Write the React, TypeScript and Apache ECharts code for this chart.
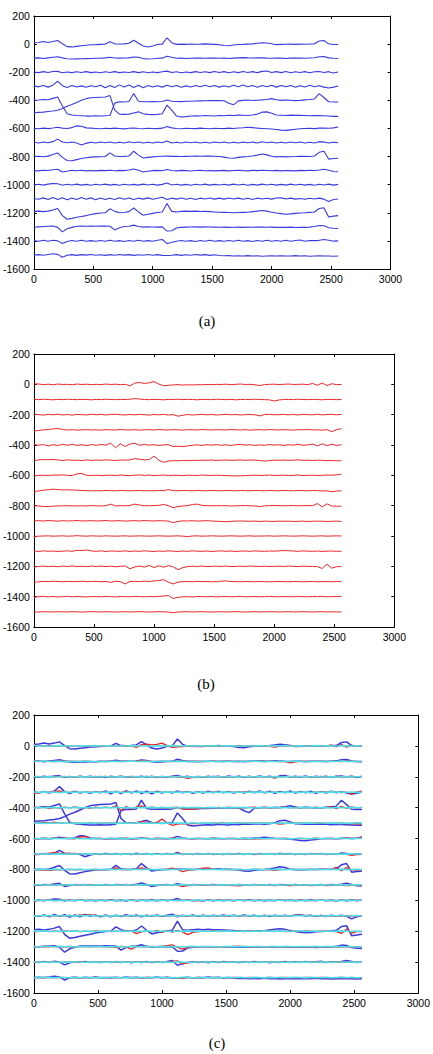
import React, { useEffect, useRef } from "react";
import * as echarts from "echarts";

// Samples between stored points (2560 samples per channel).
const SAMPLE_STEP = 40;

// Baseline of each stacked channel.
const channelOffsets = [0, -100, -200, -300, -400, -500, -600, -700, -800, -900, -1000, -1100, -1200, -1300, -1400, -1500];

const xMin = 0;
const xMax = 3000;
const xInterval = 500;
const yMin = -1600;
const yMax = 200;
const yInterval = 200;

const panelCaptions = ["(a)", "(b)", "(c)"];

// Original recordings (blue), deviation from the channel baseline.
const blueTraces: number[][] = [
  [10, 12, 18, 12, 18, 26, 2, -18, -20, -16, -12, -8, -5,
   -4, -2, 0, 16, 2, 1, 2, 6, 28, 6, -14, -20, -14,
   -3, 0, 45, 10, -2, 0, -2, 1, -1, 0, 2, 0, -2,
   -4, -10, -12, -6, -3, -2, 0, 2, 6, 10, 8, 2, -4,
   -2, -1, 0, -2, 0, -1, 1, 2, 22, 26, 2, -3, -3],
  [0, 2, -2, 2, 6, 10, 2, -4, -6, -5, -4, -3, -2,
   -1, 0, 2, 7, 1, 0, 1, 2, 8, 6, -3, -6, -4,
   -1, 0, 14, 6, -1, 0, -2, -1, 0, 1, -1, 0, 1,
   -1, 0, -2, 0, 2, 4, 2, 1, 3, 2, 0, -1, 1,
   0, -2, 0, 1, 0, -1, 1, 3, 10, 12, 2, -1, -2],
  [2, -3, 4, -2, 5, 6, -4, 2, -3, 3, -2, 4, -3,
   2, -4, 3, -2, 4, -3, 2, -2, 4, -3, 3, -4, 2,
   -3, 3, 8, -2, 3, -4, 2, -3, 4, -2, 3, -3, 5,
   -2, 4, -4, 3, -3, 5, -2, 4, -3, 6, 9, -2, 4,
   -3, 5, -4, 3, -2, 4, -4, 3, 5, -2, 4, -5, 2],
  [3, -4, 5, -6, 8, 36, 4, -8, 6, -5, 3, -7, 4,
   -3, 8, -10, 6, -9, 10, -6, 9, -8, 7, -10, 6, -5,
   4, -6, 8, -4, 5, -7, 3, -5, 6, -4, 7, -3, 5,
   -6, 4, -5, 7, -3, 9, -4, 6, -7, 5, -4, 8, -6,
   5, -4, 6, -7, 4, -5, 7, -3, 4, -6, -12, -6, 2],
  [0, 2, 6, 4, 14, 24, -40, -95, -104, -108, -110, -112, -112,
   -110, -112, -110, -108, -20, -10, -12, -8, 48, -6, -10, -10, -8,
   -10, -8, 2, -6, -8, -9, -7, -6, -5, -4, -3, -2, -1,
   -2, -3, -20, -32, -4, 0, 2, -1, 1, 3, 6, 12, 4,
   0, 2, 1, -2, 0, 3, 6, 10, 48, 20, -10, -12, -12],
  [12, 14, 16, 20, 24, 30, 42, 58, 70, 85, 100, 112, 118,
   120, 122, 124, 134, 30, 2, 0, 2, 10, 18, 4, 0, -2,
   0, 4, 66, 30, -12, -18, -16, -12, -10, -12, -8, -10, -12,
   -8, -10, -6, -8, -5, -6, -8, -4, 2, 16, 18, 8, -4,
   -6, -8, -5, -7, -6, -8, -10, -8, -9, -10, -12, -14, -14],
  [0, -2, 2, -1, 3, 8, 2, 0, 6, 18, 16, 4, 2,
   0, -2, 1, -1, 2, 0, -3, 1, 3, 0, -2, 1, 0,
   -1, 2, 14, 4, 0, -2, 1, 0, -1, 2, 0, -2, 1,
   0, -1, 2, 0, 3, 5, 8, 6, 2, 0, -2, -4, -8,
   -12, -14, -10, -6, -2, 0, 1, -1, 2, 3, 1, 4, 10],
  [2, -3, 3, -2, 6, 24, 4, -2, 3, -4, -18, -6, 2,
   -3, 4, -2, 3, -4, 2, -3, 5, -2, 3, -3, 2, -4,
   3, -2, 10, -3, 2, -4, 3, -2, 4, -3, 2, -4, 3,
   -2, 3, -3, 2, -4, 4, -2, 3, -3, 5, -2, 3, -3,
   2, -4, 3, -2, 4, -3, 2, -3, 6, 3, -4, 2, -2],
  [0, 2, -1, 3, 14, 26, -6, -28, -30, -22, -14, -8, -4,
   -2, -1, 0, 26, 4, 0, 1, 4, 38, 10, -10, -6, -2,
   0, 2, 3, 1, 2, 0, 1, 2, 3, 2, 4, 3, 2,
   0, -4, -10, -12, -6, -2, 0, 4, 10, 18, 12, 2, -2,
   0, -2, -1, 0, 2, 1, 0, 4, 30, 38, -18, -14, -12],
  [0, -2, 3, 1, 6, 10, -10, -4, 2, -1, 3, -2, 1,
   -2, 2, 0, 3, -1, 2, 0, 4, 12, 2, -10, -4, 0,
   2, -1, 8, 1, -2, 2, 0, -3, 1, 2, -1, 1, -2,
   0, 2, -2, 1, 3, 0, -2, 2, 0, 3, 1, -1, 2,
   -2, 1, 0, -2, 2, 0, 3, 1, 4, 10, 2, -6, -8],
  [-2, 3, -3, 4, 8, 7, -4, 3, -2, 4, -3, 2, -4,
   3, -2, 4, -3, 2, -4, 3, -2, 2, -3, 4, -2, 3,
   -3, 2, 12, -2, 3, -3, 2, -4, 3, -2, 4, -3, 2,
   -2, 3, -3, 4, -2, 3, -4, 2, -3, 4, -2, 3, -3,
   2, -3, 4, -2, 3, -3, 2, -4, 3, -2, 4, -3, 2],
  [2, -4, 6, -6, 8, -5, 7, -8, 5, -6, 8, -4, 6,
   -7, 5, -6, 4, -5, 7, -4, 5, -6, 4, -3, 6, -4,
   3, 10, -6, 4, -3, 5, -4, 3, -5, 4, -2, 5, -3,
   4, -3, 5, -2, 4, -4, 3, -5, 4, -2, 3, -3, 5,
   6, -2, 4, -3, 2, -4, 3, -2, 4, -3, -20, -6, -2],
  [10, 12, 8, 12, 20, 30, -20, -46, -40, -32, -26, -20, -12,
   -6, -2, 0, 28, 10, 0, 2, 8, 34, 6, -18, -10, -4,
   2, 6, 66, 10, 6, 10, 12, 10, 12, 9, 10, 8, 6,
   4, 3, 2, 0, 2, 3, 4, 8, 12, 16, 12, 4, -2,
   -6, -10, -8, -4, -2, 0, 3, 6, 30, 36, -30, -24, -20],
  [-3, 0, 2, 4, 6, -4, -36, -14, -4, 4, 5, 4, 5,
   4, 6, 5, 4, -22, -6, 2, 4, 12, 2, -2, 0, -1,
   -2, 0, -30, -28, -8, -4, -2, -1, 0, -2, 0, -1, -2,
   -3, -2, -4, -3, -2, -4, -1, -3, -2, -1, -3, -2, -4,
   -3, -4, -2, -5, -3, -4, -2, 2, 10, 8, -6, -10, -12],
  [2, -3, 4, -2, 5, 0, -18, -4, 3, -2, 4, -3, 2,
   -3, 3, -2, 4, -3, 2, -4, 3, -2, 4, -3, 2, -3,
   4, 10, -20, -10, -2, 3, -3, 2, -4, 3, -2, 4, -3,
   2, -3, 3, -2, 4, -3, 2, -4, 3, -2, 4, -2, 3,
   -3, 4, -2, 3, 6, -2, 3, 2, 4, 10, 4, -2, 0],
  [0, 2, -2, 3, 8, 4, -16, -2, 2, -3, 2, -1, 3,
   -2, 1, -3, 2, -2, 3, -1, 2, -3, 1, -2, 3, -2,
   2, -3, -4, -2, 2, -3, 1, -2, 3, -1, 2, -3, 1,
   -4, -6, -5, -8, -6, -7, -5, -8, -6, -9, -7, -6, -8,
   -6, -8, -7, -5, -8, -6, -9, -7, -6, -8, -7, -9, -8],
];

// Reconstructed recordings (red), deviation from the channel baseline.
const redTraces: number[][] = [
  [4, 2, -2, 1, -3, 2, -1, 0, -3, 2, -1, 1, -2,
   0, -2, 2, -1, 1, -2, 0, -10, 8, 12, 6, 10, 18,
   2, -10, -6, -4, -2, -5, -3, -4, -2, -3, -1, -2, 0,
   -1, 1, -2, 0, 2, -1, 0, -3, -8, -2, 0, 1, -1,
   0, 2, -1, 0, 1, -2, 6, -6, 8, -8, 4, -2, -1],
  [1, -1, 2, 0, -2, 1, -1, 2, 0, -1, 1, 0, -2,
   1, -1, 2, 0, -1, 1, 0, 2, 6, 3, 0, -1, 1,
   0, -2, 1, 0, 2, -1, 1, 0, -2, 1, 0, -1, 2,
   0, -1, 1, -2, 0, 1, -1, 2, 0, -1, -2, -10, -3,
   0, 1, -1, 2, 0, -1, 1, 0, -2, 1, 0, -1, 0],
  [4, 0, -3, 2, -1, 3, -2, 1, -3, 2, 0, -2, 3,
   -1, 2, -2, 1, 3, 0, -2, 1, -1, 2, 0, -3, 1,
   -1, 2, -2, 0, -10, -4, 1, -2, 0, 2, -1, 1, -2,
   0, 2, -1, 1, -2, 0, 1, -1, -8, 1, 2, -1, 0,
   2, -1, 1, -2, 2, 0, -1, 3, -2, 1, 2, -1, 2],
  [-8, -4, 0, 2, 6, 9, 2, -1, 1, -2, 0, 1, -1,
   0, -2, 1, 0, -1, 2, 0, -1, 1, -2, 0, 1, -1,
   2, 0, -1, 1, 0, -2, 1, 0, -1, 2, 0, -1, 1,
   0, -1, 2, 0, -1, 1, -2, 0, 1, -1, 2, 0, -1,
   1, 0, -2, 1, 0, 2, -1, 0, -2, 1, -12, 2, 7],
  [4, -2, 3, -6, 2, -3, 4, -2, 5, -3, 2, -4, 3,
   -2, 4, -1, 12, -18, 8, -10, 6, 12, -2, 3, -1, 2,
   -3, 1, 2, -10, -8, -11, -6, -2, 1, -3, 2, -1, 3,
   -2, 1, -3, 2, 4, -1, 2, -3, 1, -2, 3, -1, 2,
   -3, 2, -1, 4, -2, 1, 6, -6, 8, -4, 5, -3, 2],
  [-4, 2, 4, 3, 5, 1, -2, 2, -1, 0, -3, 2, -2,
   1, -1, 2, 0, -2, 1, 0, 2, 10, 6, 2, 4, 26,
   0, -14, -6, -3, -4, -2, -3, -1, -2, 0, -1, 1, -2,
   0, 1, -1, 0, 2, -1, 1, 0, -2, -6, -3, 0, -1,
   1, -1, 0, 2, -1, 0, -2, 0, -1, -3, -2, -4, -4],
  [-2, 0, 1, -1, 2, 1, 3, 0, -2, 10, 12, 0, -1,
   1, -2, 0, 1, -1, 2, 0, -2, 1, 3, -1, 2, -2,
   0, 2, -1, 1, 0, -2, 1, 0, -1, 2, 0, -1, 1,
   0, -2, -3, -4, -3, -2, 0, 1, -1, 0, 2, -1, 0,
   1, -1, 0, 2, -1, 0, 1, -1, 0, 2, 1, 3, 8],
  [-6, -3, 2, 5, 9, 6, 4, 5, 3, 2, 0, -1, -2,
   -1, -2, 0, -1, -2, 0, -1, -2, -1, 0, -2, -1, -2,
   0, -1, 6, -1, -2, 0, -1, -2, 0, -1, -2, 0, -1,
   -2, 0, -1, -2, 0, -1, -2, 0, -1, -2, 0, -1, -2,
   0, -1, -2, 0, -1, -2, 0, -1, -3, -2, -8, -4, -2],
  [0, -2, -5, -6, -3, -2, -1, 0, -2, -1, -1, -2, 0,
   -1, -2, 0, 10, -2, 0, -1, 2, 10, 4, 0, -1, 1,
   2, 8, 0, -14, -6, -2, 0, 8, 10, 2, 0, -1, 0,
   -1, 0, -2, -1, 0, 1, -1, -2, -6, -1, 0, 1, 0,
   -1, 0, 1, -1, 0, 1, 0, 14, -8, 12, -2, -4, -3],
  [0, 1, -1, 2, 0, -2, 1, -1, 0, 2, -1, 0, 1,
   -1, 0, 2, -1, 0, 1, -2, 0, 1, -1, 2, 0, -1,
   1, 0, -2, -12, -4, 0, -1, 1, -2, 0, 1, -1, -3,
   -4, -6, -3, -2, -1, -2, -3, -2, -4, -2, -3, -4, -2,
   -3, -2, -4, -3, -2, -4, -3, -2, -3, -4, -3, -2, -4],
  [-3, -1, 0, 1, -1, 0, 1, -1, 0, 2, 0, -1, 1,
   0, -1, 1, 0, -1, 0, 1, -1, 0, 1, 0, -1, 0,
   1, 0, -1, 0, 1, -1, -4, 0, 1, -1, 0, 1, 0,
   -1, 0, 1, 0, -1, 0, 1, -1, 0, 0, 1, -1, 0,
   1, 0, -1, 0, 1, 0, -1, 0, 1, -1, 0, 1, 0],
  [1, -2, 2, -1, 1, -2, 0, 2, -1, 6, 4, 8, 1,
   -1, 2, -2, 1, 0, -1, 2, -2, 1, -1, 2, 0, -2,
   1, -1, 2, 0, -2, 1, -1, 2, 0, -1, 1, -2, 0,
   2, -1, 1, -2, 0, 1, -1, 2, 0, -1, 1, 0, 2,
   4, 3, 1, -1, 2, 0, -1, 1, -2, 0, 1, -1, 0],
  [-4, -1, 2, -2, 1, -3, 2, -1, 3, -2, 1, -2, 2,
   -1, 2, -2, 1, -3, 0, 2, -16, -4, 2, -5, 6, -8,
   4, -6, 5, -4, -22, -8, -2, 1, -1, 2, -2, 0, 1,
   -1, 2, -2, 0, 1, -1, 2, 0, -1, 1, -2, 0, 1,
   -1, 2, 0, -2, 1, 0, -1, -2, -14, 14, -12, -2, -2],
  [-6, -2, 1, -1, 2, 0, -2, 1, -1, 0, 2, -1, 0,
   1, -2, 0, -6, 2, -1, -16, 0, 1, -1, 2, 0, 4,
   6, 12, -4, -16, -4, -1, 0, -2, 1, -1, 0, -2, -1,
   2, 4, 0, -1, -2, 0, -1, -2, 0, -1, -2, -1, 0,
   -1, -2, 0, -1, -2, -1, 0, -2, -1, -1, -2, 0, -1],
  [-4, 0, 2, -1, 1, -2, 0, 2, -1, 1, 0, -2, 1,
   0, -1, 2, 0, -2, 1, 0, -1, 2, 0, -1, 1, 0,
   2, 4, 8, -12, -4, -1, 0, -2, 1, 0, -1, 1, -2,
   0, 1, -1, 0, 2, -1, 0, 1, -1, 0, 2, 0, -1,
   1, 0, -1, 2, 0, -1, 1, 0, 2, -1, 0, 1, 2],
  [0, -1, 1, 0, -1, 1, 0, -1, 1, 0, -1, 0, 1,
   0, -1, 1, 0, -1, 0, 1, -1, 0, 1, 0, -1, 0,
   1, 0, -2, -6, -1, 0, 1, -1, 0, 1, 0, -1, 0,
   1, -1, 0, 1, 0, -1, 0, 1, -1, 0, 1, 0, -1,
   0, 1, -1, 0, 1, 0, -1, 0, 1, -1, 0, -1, 0],
];

// Third estimate (cyan), deviation from the channel baseline.
const cyanTraces: number[][] = [
  [2, -1, 1, -2, 0, 2, -1, 1, -2, 1, 0, -1, 2,
   -1, 1, 0, -2, 1, -1, 2, 0, -1, 1, -2, 0, 1,
   -1, 2, 0, -1, 1, -2, 0, 1, -1, 2, -1, 0, 1,
   0, -2, 1, -1, 0, 2, -1, 1, 0, -1, 2, -2, 0,
   1, -1, 0, 2, -1, 0, 1, -2, 1, 0, -1, 1, -1],
  [-1, 1, 2, -1, 0, 1, -2, 0, 1, -1, 2, 0, -1,
   1, -2, 0, 1, -1, 0, 2, -1, 1, 0, -2, 1, 0,
   2, -1, 0, 1, -2, 1, -1, 0, 2, -1, 1, -2, 0,
   -1, 1, 0, -1, 2, 0, -2, 1, -1, 0, 1, -1, 2,
   0, -1, 1, 0, -2, 1, 0, -1, 2, -1, 0, 1, -1],
  [0, 2, -2, 1, -1, 0, 2, -1, 0, 1, -2, 1, 0,
   -1, 2, -1, 0, 1, -1, 0, 2, -2, 1, 0, -1, 1,
   0, -1, 2, -1, 0, -2, 1, 0, -1, 1, 2, -1, 0,
   1, -2, 0, 2, -1, 1, 0, -1, 1, -2, 0, 2, -1,
   0, 1, -1, 2, 0, -1, 1, -2, 0, 1, -1, 0, 1],
  [1, -2, 2, -1, 1, -3, 2, -2, 1, -1, 2, -2, 1,
   -2, 1, -1, 2, -2, 0, 1, -1, 2, -2, 1, -1, 0,
   2, -1, 1, -2, 1, 0, -1, 2, -2, 1, -1, 2, -1,
   0, 1, -2, 1, -1, 2, -1, 0, 1, -2, 2, -1, 1,
   -1, 2, -2, 1, 0, -1, 2, -1, 1, -2, 1, -1, 0],
  [-2, 1, -1, 2, 0, -1, 1, -2, 2, 0, -1, 1, -2,
   1, 0, -1, 2, -1, 1, -2, 0, 1, -1, 2, -1, 0,
   -1, 1, -2, 2, -1, 0, 1, -1, 0, 2, -2, 1, 0,
   1, -1, 2, 0, -2, 1, -1, 0, 2, -1, 1, 0, -2,
   0, 2, -1, 1, -1, 0, -2, 1, 0, -1, 2, -1, 0],
  [1, 0, -2, 1, -1, 2, 0, -1, 1, -2, 1, 0, -1,
   2, -1, 0, -2, 1, 0, -1, 2, -1, 0, 1, -2, 1,
   0, -1, 1, 0, -2, 2, -1, 1, 0, -1, 2, -2, 1,
   -1, 0, 2, -1, 1, -2, 0, 1, -1, 2, 0, -1, 1,
   -2, 1, 0, -1, 2, -1, 1, 0, -2, 1, -1, 2, 0],
  [0, -1, 2, -2, 1, 0, -1, 1, 2, -1, 0, -2, 1,
   -1, 0, 2, -1, 1, -2, 1, 0, -1, 2, -2, 0, 1,
   1, -2, 0, 1, -1, 2, 0, -1, 1, -2, 1, 0, -1,
   2, -1, 1, -2, 0, 1, -1, 2, 0, -1, 1, -2, 0,
   1, 0, -1, 2, -2, 1, 0, -1, 1, 0, -2, 1, 0],
  [2, -2, 1, 0, -1, 1, -2, 2, -1, 0, 1, -1, 0,
   1, -2, 2, -1, 0, -1, 1, 0, 2, -1, 1, -2, 0,
   -1, 1, 0, -2, 2, -1, 0, 1, -1, 0, 2, -1, 1,
   0, -2, 1, -1, 2, 0, -1, 1, -2, 1, 0, -1, 2,
   -1, 0, 1, -2, 1, 0, 2, -1, 0, -1, 1, 0, -1],
  [-1, 0, 1, -2, 2, -1, 0, 1, -1, 2, -2, 0, 1,
   0, -1, 2, -2, 1, 0, -1, 1, -2, 2, 0, -1, 1,
   -2, 1, 0, -1, 2, -1, 1, -2, 0, 1, -1, 2, 0,
   -1, 1, -2, 0, 2, -1, 0, 1, -1, 2, -2, 1, 0,
   1, -1, 0, 2, -2, 0, 1, -1, 2, -1, 0, 1, -1],
  [1, 2, -1, 0, -2, 1, -1, 2, 0, -1, 1, -2, 0,
   2, -1, 1, 0, -2, 1, -1, 0, 2, -1, 1, 0, -2,
   1, 0, -1, 2, -1, 0, -2, 1, 1, -1, 0, 2, -1,
   0, 1, -2, 1, 0, -1, 2, -1, 0, 1, -2, 2, -1,
   0, -1, 1, 0, 2, -1, -1, 1, 0, -2, 1, 0, 1],
  [0, 1, -1, 2, -2, 0, 1, -1, 0, 2, -1, 1, -2,
   1, 0, -1, 1, -2, 2, 0, -1, 1, 0, -2, 1, -1,
   2, 0, -1, 1, -1, -2, 2, 0, -1, 1, 0, -2, 1,
   -1, 2, 0, -1, 1, -2, 1, 0, -1, 2, -1, 0, 1,
   -2, 1, -1, 0, 2, -1, 1, -2, 0, 1, 0, -1, 1],
  [-2, 0, 1, -1, 2, -1, 0, 1, -2, 1, 0, 2, -1,
   0, 1, -2, 1, -1, 0, 2, -1, 1, -2, 0, 1, 0,
   -1, 2, -2, 0, 1, -1, 1, 0, -2, 2, -1, 0, 1,
   1, -1, 0, 2, -2, 1, -1, 0, 1, -1, 2, -2, 0,
   1, 0, -1, 2, -1, -2, 1, 0, 1, -1, 0, 2, -1],
  [1, -1, 2, 0, -2, 1, -1, 0, 2, -2, 1, -1, 0,
   -1, 2, 0, -1, 1, -2, 1, -1, 0, 2, -1, 0, 1,
   0, -2, 1, -1, 2, 0, -1, 1, -2, 0, 1, -1, 2,
   -1, 0, 1, -2, 1, -1, 2, 0, -1, 1, 0, -2, 1,
   2, -1, 0, 1, -2, 0, 1, -1, 2, 0, -1, 1, 0],
  [0, -2, 1, 1, -1, 2, -1, 0, -2, 1, 0, 1, -1,
   2, -1, -1, 0, 1, -2, 2, 0, -1, 1, -1, 0, 2,
   -1, 0, 1, -2, 0, 2, -1, 1, -1, 0, -2, 1, 0,
   1, -1, 2, -1, 0, 1, -2, 0, 1, -1, 2, 0, -1,
   0, 1, -1, 2, -2, 1, 0, -1, 1, -1, 0, -2, 1],
  [2, -1, 0, -1, 1, -2, 1, 0, 2, -1, -1, 1, 0,
   -2, 1, 0, 2, -1, 1, -1, 0, -2, 1, 2, -1, 0,
   1, -1, 2, 0, -1, -2, 1, 1, 0, -1, 2, -1, -1,
   0, 2, -1, 1, -2, 0, 1, -1, 2, 0, -1, 1, -2,
   1, 0, -1, -1, 2, 0, -2, 1, 1, -1, 0, 1, 0],
  [-1, 1, 0, 2, -2, 1, 0, -1, 1, -1, 2, 0, -2,
   1, -1, 2, 0, -1, 1, -2, 1, 0, -1, 1, 0, 2,
   -1, 0, -2, 1, 1, -1, 0, 2, -1, 1, -2, 0, 1,
   -1, 2, 0, -1, 1, 0, -2, 1, -1, 2, -1, 0, 1,
   0, -2, 1, 0, -1, 2, -1, 0, 1, -1, 2, -1, 0],
];

const BLUE = "#3a3ade";
const RED = "#e8262a";
const CYAN = "#4fdde6";

// Plot-area boxes of the three stacked panels, in page pixels.
const panelBoxes = [
  { left: 30.5, top: 16, width: 360, height: 253 },
  { left: 28.3, top: 354, width: 366, height: 273 },
  { left: 31.5, top: 715, width: 399, height: 278 },
];
const captionPositions = [
  { x: 207, y: 321 },
  { x: 206, y: 684 },
  { x: 217, y: 1043 },
];

const tickFont = "Liberation Sans, Arial, sans-serif";

function channelData(values: number[], offset: number): number[][] {
  return values.map((v, k) => [k * SAMPLE_STEP, offset + v]);
}

function lineSeries(traces: number[][], panel: number, color: string, width: number, prefix: string) {
  return traces.map((values, i) => ({
    name: `${prefix}${i + 1}`,
    type: "line",
    xAxisIndex: panel * 2,
    yAxisIndex: panel * 2,
    data: channelData(values, channelOffsets[i]),
    showSymbol: false,
    symbol: "none",
    silent: true,
    lineStyle: { color, width },
  }));
}

function buildAxes() {
  const xAxis: any[] = [];
  const yAxis: any[] = [];
  panelBoxes.forEach((_, g) => {
    const common = {
      gridIndex: g,
      type: "value",
      axisLine: { show: true, onZero: false, lineStyle: { color: "#000", width: 1 } },
      axisTick: { show: true, inside: true, length: 3, lineStyle: { color: "#000", width: 1 } },
      splitLine: { show: false },
    };
    const labelStyle = {
      color: "#000",
      fontSize: 10.5,
      fontFamily: tickFont,
      margin: 4,
      formatter: (v: number) => String(v),
    };
    xAxis.push({ ...common, min: xMin, max: xMax, interval: xInterval, position: "bottom", axisLabel: { ...labelStyle, showMaxLabel: true } });
    xAxis.push({ ...common, min: xMin, max: xMax, interval: xInterval, position: "top", axisLabel: { show: false } });
    yAxis.push({ ...common, min: yMin, max: yMax, interval: yInterval, position: "left", axisLabel: labelStyle });
    yAxis.push({ ...common, min: yMin, max: yMax, interval: yInterval, position: "right", axisLabel: { show: false } });
  });
  return { xAxis, yAxis };
}

export default function App() {
  const ref = useRef<HTMLDivElement>(null);

  useEffect(() => {
    if (!ref.current) return;
    const chart = echarts.init(ref.current, undefined, { renderer: "svg" });
    const { xAxis, yAxis } = buildAxes();
    const series = [
      ...lineSeries(blueTraces, 0, BLUE, 1.1, "a-ch"),
      ...lineSeries(redTraces, 1, RED, 1, "b-ch"),
      ...lineSeries(blueTraces, 2, BLUE, 1.5, "c-blue-ch"),
      ...lineSeries(redTraces, 2, RED, 1.3, "c-red-ch"),
      ...lineSeries(cyanTraces, 2, CYAN, 1.6, "c-cyan-ch"),
    ];
    chart.setOption({
      animation: false,
      backgroundColor: "#fff",
      grid: panelBoxes.map((b) => ({ ...b, containLabel: false, show: false })),
      xAxis,
      yAxis,
      series,
      graphic: panelCaptions.map((text, i) => ({
        type: "text",
        x: captionPositions[i].x,
        y: captionPositions[i].y,
        style: {
          text,
          fill: "#000",
          font: '15px "Liberation Serif", "Times New Roman", serif',
          textAlign: "center",
          textVerticalAlign: "middle",
        },
      })),
    });
    return () => chart.dispose();
  }, []);

  return (
    <div
      ref={ref}
      style={{ position: "absolute", left: 0, top: 0, width: 433, height: 1054 }}
    />
  );
}
